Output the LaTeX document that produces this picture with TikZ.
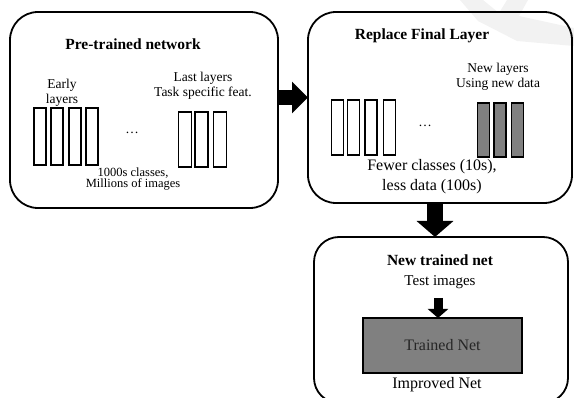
\documentclass[tikz,border=0pt]{standalone}
\usepackage{fontspec}
\setmainfont{Liberation Serif}
\usetikzlibrary{arrows.meta}
\begin{document}
\begin{tikzpicture}[x=1pt,y=-1pt,
  panel/.style={draw, line width=1.8pt, rounded corners=28pt, inner sep=0pt, outer sep=0pt},
  oldlayer/.style={draw, line width=1.8pt, minimum width=12pt, inner sep=0pt, outer sep=0pt},
  whitelayer/.style={draw, line width=1.4pt, minimum width=12pt, minimum height=55pt, inner sep=0pt, outer sep=0pt},
  graylayer/.style={draw, line width=1.4pt, fill=gray, minimum width=12pt, minimum height=54pt, inner sep=0pt, outer sep=0pt},
  title/.style={font=\fontsize{15.5}{17}\selectfont\bfseries, inner sep=0pt},
  small/.style={font=\fontsize{13.5}{15}\selectfont, align=center, inner sep=0pt},
  big/.style={font=\fontsize{16}{20}\selectfont, align=center, inner sep=0pt}
]
\useasboundingbox (0,0) rectangle (574,398);
% faint watermark
\fill[gray!10] (460,0) -- (483,0) -- (499,13) -- (507,0) -- (528,0) -- (519,16) -- (574,28) -- (574,46) -- (517,41) -- (478,21) -- cycle;

% panels
\node[panel, minimum width=268pt, minimum height=196pt] (b1) at (144,110) {};
\node[panel, minimum width=264pt, minimum height=191pt] (b2) at (440,107.5) {};
\node[panel, minimum width=254pt, minimum height=166pt, rounded corners=25pt] (b3) at (441,320) {};

% panel 1 content
\node[title] (t1) at (133,44) {Pre-trained network};
\node[small] (early) at (62,92.5) {Early\\layers};
\node[small] (last) at (203,86) {Last layers\\Task specific feat.};
\node[oldlayer, minimum height=57pt] (e1) at (40,136.5) {};
\node[oldlayer, minimum height=57pt] (e2) at (57.3,136.5) {};
\node[oldlayer, minimum height=57pt] (e3) at (74.6,136.5) {};
\node[oldlayer, minimum height=57pt] (e4) at (92,136.5) {};
\node[small] (dots1) at (132,133) {\dots};
\node[oldlayer, minimum height=55pt, minimum width=13pt] (l1) at (185,139.5) {};
\node[oldlayer, minimum height=55pt, minimum width=13pt] (l2) at (201.5,139.5) {};
\node[oldlayer, minimum height=55pt, minimum width=13pt] (l3) at (220,139.5) {};
\node[font=\fontsize{12.5}{11}\selectfont, align=center, inner sep=0pt] (data1) at (133,179.5) {1000s classes,\\Millions of images};

% panel 2 content
\node[title] (t2) at (422,36) {Replace Final Layer};
\node[small] (newl) at (498,77) {New layers\\Using new data};
\node[whitelayer] (w1) at (337.5,127.5) {};
\node[whitelayer] (w2) at (353.5,127.5) {};
\node[whitelayer] (w3) at (371,127.5) {};
\node[whitelayer] (w4) at (389.5,127.5) {};
\node[small] (dots2) at (425,126) {\dots};
\node[graylayer] (g1) at (483.5,130) {};
\node[graylayer] (g2) at (500,130) {};
\node[graylayer] (g3) at (517.5,130) {};
\node[big] (data2) at (432,177) {Fewer classes (10s),\\less data (100s)};

% panel 3 content
\node[title] (t3) at (440,260) {New trained net};
\node[font=\fontsize{15}{17}\selectfont, inner sep=0pt] (test) at (440,282) {Test images};
\node[draw, line width=1.4pt, fill=gray, minimum width=159pt, minimum height=55pt, inner sep=0pt, outer sep=0pt, font=\fontsize{16}{18}\selectfont, text=black!85] (tn) at (442.5,345.5) {Trained Net};
\node[font=\fontsize{16}{18}\selectfont, inner sep=0pt] (imp) at (437,385) {Improved Net};

% block arrows
\coordinate (ya) at (0,97.5);
\coordinate (xd) at (435,0);
\coordinate (xs) at (438,0);
\coordinate (ts) at (438,298);
\draw[line width=15pt, -{Triangle[length=16pt,width=31pt]}] (b1.east |- ya) -- (b2.west |- ya);
\draw[line width=16pt, -{Triangle[length=16pt,width=36pt]}] (b2.south -| xd) -- (b3.north -| xd);
\draw[line width=9pt, -{Triangle[length=9pt,width=20pt]}] (ts) -- (tn.north -| xs);
\end{tikzpicture}
\end{document}
